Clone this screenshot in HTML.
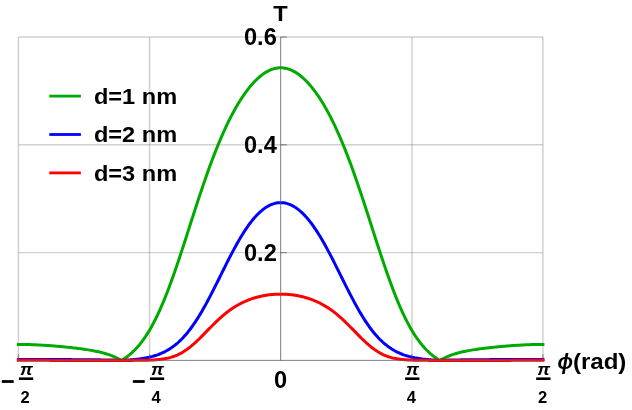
<!DOCTYPE html>
<html><head><meta charset="utf-8"><title>T vs phi</title>
<style>html,body{margin:0;padding:0;background:#fff;}body{width:632px;height:410px;overflow:hidden;font-family:"Liberation Sans",sans-serif;}</style>
</head><body>
<svg width="632" height="410" viewBox="0 0 632 410" style="display:block;will-change:transform">
<rect width="632" height="410" fill="#fff"/>
<g stroke="#666" stroke-opacity="0.31" stroke-width="1.45" fill="none">
<path d="M18.40,37.00 V360.40"/>
<path d="M149.55,37.00 V360.40"/>
<path d="M412.00,37.00 V360.40"/>
<path d="M542.90,37.00 V360.40"/>
<path d="M18.40,252.60 H542.90"/>
<path d="M18.40,144.80 H542.90"/>
<path d="M18.40,37.00 H542.90"/>
</g>
<g stroke="#666" stroke-opacity="0.50" stroke-width="1" fill="none">
<path d="M18.40,360.40 H542.90"/>
<path d="M280.65,37.00 V360.40"/>
<path d="M280.65,252.60 h6"/>
<path d="M280.65,144.80 h6"/>
<path d="M280.65,37.00 h6"/>
<path d="M18.40,360.40 v-6"/>
<path d="M149.55,360.40 v-6"/>
<path d="M412.00,360.40 v-6"/>
<path d="M542.90,360.40 v-6"/>
</g>
<g fill="none" stroke-width="3.00" stroke-linecap="square" stroke-linejoin="round">
<path stroke="#00aa00" d="M18.40,344.43 L19.86,344.43 L21.31,344.44 L22.77,344.45 L24.23,344.47 L25.68,344.50 L27.14,344.53 L28.60,344.57 L30.06,344.61 L31.51,344.66 L32.97,344.71 L34.43,344.77 L35.88,344.83 L37.34,344.90 L38.80,344.97 L40.25,345.05 L41.71,345.13 L43.17,345.22 L44.62,345.31 L46.08,345.41 L47.54,345.50 L49.00,345.61 L50.45,345.72 L51.91,345.83 L53.37,345.94 L54.82,346.06 L56.28,346.18 L57.74,346.31 L59.19,346.43 L60.65,346.57 L62.11,346.70 L63.57,346.84 L65.02,346.98 L66.48,347.13 L67.94,347.27 L69.39,347.43 L70.85,347.58 L72.31,347.74 L73.76,347.91 L75.22,348.08 L76.68,348.25 L78.13,348.43 L79.59,348.62 L81.05,348.81 L82.51,349.01 L83.96,349.21 L85.42,349.42 L86.88,349.64 L88.33,349.87 L89.79,350.11 L91.25,350.37 L92.70,350.63 L94.16,350.90 L95.62,351.19 L97.07,351.50 L98.53,351.82 L99.99,352.16 L101.45,352.52 L102.90,352.90 L104.36,353.30 L105.82,353.73 L107.27,354.18 L108.73,354.66 L110.19,355.17 L111.64,355.71 L113.10,356.29 L114.56,356.91 L116.02,357.56 L117.47,358.26 L118.93,359.01 L120.39,359.80 L121.44,360.40 L121.84,360.16 L123.30,359.26 L124.76,358.31 L126.21,357.30 L127.67,356.22 L129.13,355.08 L130.58,353.86 L132.04,352.57 L133.50,351.21 L134.96,349.76 L136.41,348.23 L137.87,346.62 L139.33,344.91 L140.78,343.11 L142.24,341.22 L143.70,339.22 L145.15,337.13 L146.61,334.93 L148.07,332.63 L149.53,330.22 L150.98,327.70 L152.44,325.07 L153.90,322.33 L155.35,319.48 L156.81,316.52 L158.27,313.45 L159.72,310.27 L161.18,306.98 L162.64,303.58 L164.09,300.08 L165.55,296.48 L167.01,292.78 L168.47,288.99 L169.92,285.10 L171.38,281.13 L172.84,277.08 L174.29,272.95 L175.75,268.75 L177.21,264.49 L178.66,260.17 L180.12,255.80 L181.58,251.38 L183.03,246.93 L184.49,242.44 L185.95,237.93 L187.41,233.41 L188.86,228.87 L190.32,224.33 L191.78,219.79 L193.23,215.27 L194.69,210.76 L196.15,206.27 L197.60,201.81 L199.06,197.39 L200.52,193.01 L201.97,188.67 L203.43,184.39 L204.89,180.15 L206.35,175.98 L207.80,171.87 L209.26,167.83 L210.72,163.85 L212.17,159.95 L213.63,156.12 L215.09,152.36 L216.54,148.68 L218.00,145.09 L219.46,141.57 L220.92,138.13 L222.37,134.78 L223.83,131.51 L225.29,128.32 L226.74,125.21 L228.20,122.19 L229.66,119.24 L231.11,116.39 L232.57,113.61 L234.03,110.92 L235.48,108.31 L236.94,105.78 L238.40,103.33 L239.86,100.96 L241.31,98.67 L242.77,96.47 L244.23,94.34 L245.68,92.30 L247.14,90.33 L248.60,88.44 L250.05,86.64 L251.51,84.91 L252.97,83.27 L254.42,81.71 L255.88,80.22 L257.34,78.82 L258.80,77.50 L260.25,76.26 L261.71,75.11 L263.17,74.04 L264.62,73.05 L266.08,72.14 L267.54,71.32 L268.99,70.59 L270.45,69.94 L271.91,69.38 L273.37,68.90 L274.82,68.51 L276.28,68.20 L277.74,67.98 L279.19,67.85 L280.65,67.81 L282.11,67.85 L283.56,67.98 L285.02,68.20 L286.48,68.51 L287.93,68.90 L289.39,69.38 L290.85,69.94 L292.31,70.59 L293.76,71.32 L295.22,72.14 L296.68,73.05 L298.13,74.04 L299.59,75.11 L301.05,76.26 L302.50,77.50 L303.96,78.82 L305.42,80.22 L306.87,81.71 L308.33,83.27 L309.79,84.91 L311.25,86.64 L312.70,88.44 L314.16,90.33 L315.62,92.30 L317.07,94.34 L318.53,96.47 L319.99,98.67 L321.44,100.96 L322.90,103.33 L324.36,105.78 L325.82,108.31 L327.27,110.92 L328.73,113.61 L330.19,116.39 L331.64,119.24 L333.10,122.19 L334.56,125.21 L336.01,128.32 L337.47,131.51 L338.93,134.78 L340.38,138.13 L341.84,141.57 L343.30,145.09 L344.76,148.68 L346.21,152.36 L347.67,156.12 L349.13,159.95 L350.58,163.85 L352.04,167.83 L353.50,171.87 L354.95,175.98 L356.41,180.15 L357.87,184.39 L359.32,188.67 L360.78,193.01 L362.24,197.39 L363.70,201.81 L365.15,206.27 L366.61,210.76 L368.07,215.27 L369.52,219.79 L370.98,224.33 L372.44,228.87 L373.89,233.41 L375.35,237.93 L376.81,242.44 L378.27,246.93 L379.72,251.38 L381.18,255.80 L382.64,260.17 L384.09,264.49 L385.55,268.75 L387.01,272.95 L388.46,277.08 L389.92,281.13 L391.38,285.10 L392.83,288.99 L394.29,292.78 L395.75,296.48 L397.21,300.08 L398.66,303.58 L400.12,306.98 L401.58,310.27 L403.03,313.45 L404.49,316.52 L405.95,319.48 L407.40,322.33 L408.86,325.07 L410.32,327.70 L411.77,330.22 L413.23,332.63 L414.69,334.93 L416.15,337.13 L417.60,339.22 L419.06,341.22 L420.52,343.11 L421.97,344.91 L423.43,346.62 L424.89,348.23 L426.34,349.76 L427.80,351.21 L429.26,352.57 L430.72,353.86 L432.17,355.08 L433.63,356.22 L435.09,357.30 L436.54,358.31 L438.00,359.26 L439.46,360.16 L439.86,360.40 L440.91,359.80 L442.37,359.01 L443.83,358.26 L445.28,357.56 L446.74,356.91 L448.20,356.29 L449.66,355.71 L451.11,355.17 L452.57,354.66 L454.03,354.18 L455.48,353.73 L456.94,353.30 L458.40,352.90 L459.85,352.52 L461.31,352.16 L462.77,351.82 L464.22,351.50 L465.68,351.19 L467.14,350.90 L468.60,350.63 L470.05,350.37 L471.51,350.11 L472.97,349.87 L474.42,349.64 L475.88,349.42 L477.34,349.21 L478.79,349.01 L480.25,348.81 L481.71,348.62 L483.17,348.43 L484.62,348.25 L486.08,348.08 L487.54,347.91 L488.99,347.74 L490.45,347.58 L491.91,347.43 L493.36,347.27 L494.82,347.13 L496.28,346.98 L497.73,346.84 L499.19,346.70 L500.65,346.57 L502.11,346.43 L503.56,346.31 L505.02,346.18 L506.48,346.06 L507.93,345.94 L509.39,345.83 L510.85,345.72 L512.30,345.61 L513.76,345.50 L515.22,345.41 L516.67,345.31 L518.13,345.22 L519.59,345.13 L521.05,345.05 L522.50,344.97 L523.96,344.90 L525.42,344.83 L526.87,344.77 L528.33,344.71 L529.79,344.66 L531.24,344.61 L532.70,344.57 L534.16,344.53 L535.62,344.50 L537.07,344.47 L538.53,344.45 L539.99,344.44 L541.44,344.43 L542.90,344.43"/>
<path stroke="#0000ff" d="M18.40,359.41 L19.86,359.41 L21.31,359.41 L22.77,359.41 L24.23,359.41 L25.68,359.41 L27.14,359.42 L28.60,359.42 L30.06,359.42 L31.51,359.43 L32.97,359.43 L34.43,359.43 L35.88,359.44 L37.34,359.44 L38.80,359.45 L40.25,359.45 L41.71,359.46 L43.17,359.47 L44.62,359.47 L46.08,359.48 L47.54,359.49 L49.00,359.50 L50.45,359.50 L51.91,359.51 L53.37,359.52 L54.82,359.53 L56.28,359.53 L57.74,359.54 L59.19,359.55 L60.65,359.56 L62.11,359.57 L63.57,359.58 L65.02,359.59 L66.48,359.59 L67.94,359.60 L69.39,359.61 L70.85,359.62 L72.31,359.63 L73.76,359.64 L75.22,359.65 L76.68,359.66 L78.13,359.67 L79.59,359.68 L81.05,359.69 L82.51,359.70 L83.96,359.71 L85.42,359.72 L86.88,359.73 L88.33,359.74 L89.79,359.76 L91.25,359.77 L92.70,359.78 L94.16,359.80 L95.62,359.81 L97.07,359.83 L98.53,359.85 L99.99,359.87 L101.45,359.89 L102.90,359.91 L104.36,359.93 L105.82,359.95 L107.27,359.98 L108.73,360.01 L110.19,360.04 L111.64,360.07 L113.10,360.11 L114.56,360.15 L116.02,360.20 L117.47,360.24 L118.93,360.30 L120.39,360.36 L121.44,360.40 L121.84,360.38 L123.30,360.31 L124.76,360.24 L126.21,360.16 L127.67,360.07 L129.13,359.97 L130.58,359.86 L132.04,359.74 L133.50,359.61 L134.96,359.47 L136.41,359.32 L137.87,359.15 L139.33,358.97 L140.78,358.77 L142.24,358.55 L143.70,358.32 L145.15,358.06 L146.61,357.79 L148.07,357.48 L149.53,357.16 L150.98,356.80 L152.44,356.42 L153.90,356.00 L155.35,355.55 L156.81,355.07 L158.27,354.55 L159.72,353.99 L161.18,353.39 L162.64,352.74 L164.09,352.04 L165.55,351.30 L167.01,350.51 L168.47,349.66 L169.92,348.75 L171.38,347.78 L172.84,346.76 L174.29,345.67 L175.75,344.51 L177.21,343.29 L178.66,342.00 L180.12,340.63 L181.58,339.20 L183.03,337.69 L184.49,336.10 L185.95,334.44 L187.41,332.70 L188.86,330.88 L190.32,328.99 L191.78,327.01 L193.23,324.97 L194.69,322.84 L196.15,320.65 L197.60,318.38 L199.06,316.04 L200.52,313.63 L201.97,311.15 L203.43,308.62 L204.89,306.02 L206.35,303.37 L207.80,300.67 L209.26,297.92 L210.72,295.13 L212.17,292.30 L213.63,289.44 L215.09,286.55 L216.54,283.64 L218.00,280.72 L219.46,277.78 L220.92,274.84 L222.37,271.90 L223.83,268.97 L225.29,266.05 L226.74,263.15 L228.20,260.28 L229.66,257.43 L231.11,254.62 L232.57,251.84 L234.03,249.12 L235.48,246.44 L236.94,243.81 L238.40,241.25 L239.86,238.74 L241.31,236.31 L242.77,233.94 L244.23,231.64 L245.68,229.42 L247.14,227.28 L248.60,225.22 L250.05,223.24 L251.51,221.35 L252.97,219.54 L254.42,217.82 L255.88,216.19 L257.34,214.65 L258.80,213.20 L260.25,211.84 L261.71,210.58 L263.17,209.41 L264.62,208.33 L266.08,207.34 L267.54,206.45 L268.99,205.65 L270.45,204.95 L271.91,204.34 L273.37,203.83 L274.82,203.40 L276.28,203.08 L277.74,202.84 L279.19,202.70 L280.65,202.65 L282.11,202.70 L283.56,202.84 L285.02,203.08 L286.48,203.40 L287.93,203.83 L289.39,204.34 L290.85,204.95 L292.31,205.65 L293.76,206.45 L295.22,207.34 L296.68,208.33 L298.13,209.41 L299.59,210.58 L301.05,211.84 L302.50,213.20 L303.96,214.65 L305.42,216.19 L306.87,217.82 L308.33,219.54 L309.79,221.35 L311.25,223.24 L312.70,225.22 L314.16,227.28 L315.62,229.42 L317.07,231.64 L318.53,233.94 L319.99,236.31 L321.44,238.74 L322.90,241.25 L324.36,243.81 L325.82,246.44 L327.27,249.12 L328.73,251.84 L330.19,254.62 L331.64,257.43 L333.10,260.28 L334.56,263.15 L336.01,266.05 L337.47,268.97 L338.93,271.90 L340.38,274.84 L341.84,277.78 L343.30,280.72 L344.76,283.64 L346.21,286.55 L347.67,289.44 L349.13,292.30 L350.58,295.13 L352.04,297.92 L353.50,300.67 L354.95,303.37 L356.41,306.02 L357.87,308.62 L359.32,311.15 L360.78,313.63 L362.24,316.04 L363.70,318.38 L365.15,320.65 L366.61,322.84 L368.07,324.97 L369.52,327.01 L370.98,328.99 L372.44,330.88 L373.89,332.70 L375.35,334.44 L376.81,336.10 L378.27,337.69 L379.72,339.20 L381.18,340.63 L382.64,342.00 L384.09,343.29 L385.55,344.51 L387.01,345.67 L388.46,346.76 L389.92,347.78 L391.38,348.75 L392.83,349.66 L394.29,350.51 L395.75,351.30 L397.21,352.04 L398.66,352.74 L400.12,353.39 L401.58,353.99 L403.03,354.55 L404.49,355.07 L405.95,355.55 L407.40,356.00 L408.86,356.42 L410.32,356.80 L411.77,357.16 L413.23,357.48 L414.69,357.79 L416.15,358.06 L417.60,358.32 L419.06,358.55 L420.52,358.77 L421.97,358.97 L423.43,359.15 L424.89,359.32 L426.34,359.47 L427.80,359.61 L429.26,359.74 L430.72,359.86 L432.17,359.97 L433.63,360.07 L435.09,360.16 L436.54,360.24 L438.00,360.31 L439.46,360.38 L439.86,360.40 L440.91,360.36 L442.37,360.30 L443.83,360.24 L445.28,360.20 L446.74,360.15 L448.20,360.11 L449.66,360.07 L451.11,360.04 L452.57,360.01 L454.03,359.98 L455.48,359.95 L456.94,359.93 L458.40,359.91 L459.85,359.89 L461.31,359.87 L462.77,359.85 L464.22,359.83 L465.68,359.81 L467.14,359.80 L468.60,359.78 L470.05,359.77 L471.51,359.76 L472.97,359.74 L474.42,359.73 L475.88,359.72 L477.34,359.71 L478.79,359.70 L480.25,359.69 L481.71,359.68 L483.17,359.67 L484.62,359.66 L486.08,359.65 L487.54,359.64 L488.99,359.63 L490.45,359.62 L491.91,359.61 L493.36,359.60 L494.82,359.59 L496.28,359.59 L497.73,359.58 L499.19,359.57 L500.65,359.56 L502.11,359.55 L503.56,359.54 L505.02,359.53 L506.48,359.53 L507.93,359.52 L509.39,359.51 L510.85,359.50 L512.30,359.50 L513.76,359.49 L515.22,359.48 L516.67,359.47 L518.13,359.47 L519.59,359.46 L521.05,359.45 L522.50,359.45 L523.96,359.44 L525.42,359.44 L526.87,359.43 L528.33,359.43 L529.79,359.43 L531.24,359.42 L532.70,359.42 L534.16,359.42 L535.62,359.41 L537.07,359.41 L538.53,359.41 L539.99,359.41 L541.44,359.41 L542.90,359.41"/>
<path stroke="#ff0000" d="M18.40,360.34 L19.86,360.34 L21.31,360.34 L22.77,360.34 L24.23,360.34 L25.68,360.34 L27.14,360.34 L28.60,360.35 L30.06,360.35 L31.51,360.35 L32.97,360.35 L34.43,360.35 L35.88,360.36 L37.34,360.36 L38.80,360.36 L40.25,360.36 L41.71,360.36 L43.17,360.37 L44.62,360.37 L46.08,360.37 L47.54,360.37 L49.00,360.37 L50.45,360.38 L51.91,360.38 L53.37,360.38 L54.82,360.38 L56.28,360.38 L57.74,360.38 L59.19,360.38 L60.65,360.39 L62.11,360.39 L63.57,360.39 L65.02,360.39 L66.48,360.39 L67.94,360.39 L69.39,360.39 L70.85,360.39 L72.31,360.39 L73.76,360.39 L75.22,360.39 L76.68,360.39 L78.13,360.39 L79.59,360.39 L81.05,360.39 L82.51,360.39 L83.96,360.39 L85.42,360.39 L86.88,360.39 L88.33,360.39 L89.79,360.40 L91.25,360.40 L92.70,360.40 L94.16,360.40 L95.62,360.40 L97.07,360.40 L98.53,360.40 L99.99,360.40 L101.45,360.40 L102.90,360.40 L104.36,360.40 L105.82,360.40 L107.27,360.40 L108.73,360.40 L110.19,360.40 L111.64,360.40 L113.10,360.40 L114.56,360.40 L116.02,360.40 L117.47,360.40 L118.93,360.40 L120.39,360.40 L121.44,360.40 L121.84,360.40 L123.30,360.40 L124.76,360.40 L126.21,360.39 L127.67,360.39 L129.13,360.39 L130.58,360.39 L132.04,360.38 L133.50,360.37 L134.96,360.37 L136.41,360.36 L137.87,360.35 L139.33,360.33 L140.78,360.32 L142.24,360.30 L143.70,360.27 L145.15,360.24 L146.61,360.21 L148.07,360.17 L149.53,360.12 L150.98,360.06 L152.44,359.99 L153.90,359.91 L155.35,359.82 L156.81,359.71 L158.27,359.58 L159.72,359.43 L161.18,359.26 L162.64,359.06 L164.09,358.84 L165.55,358.58 L167.01,358.29 L168.47,357.96 L169.92,357.59 L171.38,357.18 L172.84,356.72 L174.29,356.21 L175.75,355.65 L177.21,355.03 L178.66,354.36 L180.12,353.63 L181.58,352.84 L183.03,351.99 L184.49,351.08 L185.95,350.11 L187.41,349.08 L188.86,347.99 L190.32,346.85 L191.78,345.65 L193.23,344.41 L194.69,343.12 L196.15,341.78 L197.60,340.41 L199.06,339.00 L200.52,337.57 L201.97,336.11 L203.43,334.64 L204.89,333.15 L206.35,331.66 L207.80,330.16 L209.26,328.67 L210.72,327.19 L212.17,325.72 L213.63,324.26 L215.09,322.83 L216.54,321.43 L218.00,320.05 L219.46,318.71 L220.92,317.39 L222.37,316.12 L223.83,314.88 L225.29,313.68 L226.74,312.53 L228.20,311.41 L229.66,310.33 L231.11,309.30 L232.57,308.31 L234.03,307.36 L235.48,306.45 L236.94,305.58 L238.40,304.75 L239.86,303.96 L241.31,303.20 L242.77,302.49 L244.23,301.81 L245.68,301.16 L247.14,300.55 L248.60,299.97 L250.05,299.42 L251.51,298.91 L252.97,298.42 L254.42,297.96 L255.88,297.54 L257.34,297.14 L258.80,296.76 L260.25,296.42 L261.71,296.09 L263.17,295.80 L264.62,295.53 L266.08,295.28 L267.54,295.06 L268.99,294.86 L270.45,294.69 L271.91,294.54 L273.37,294.41 L274.82,294.31 L276.28,294.23 L277.74,294.17 L279.19,294.14 L280.65,294.13 L282.11,294.14 L283.56,294.17 L285.02,294.23 L286.48,294.31 L287.93,294.41 L289.39,294.54 L290.85,294.69 L292.31,294.86 L293.76,295.06 L295.22,295.28 L296.68,295.53 L298.13,295.80 L299.59,296.09 L301.05,296.42 L302.50,296.76 L303.96,297.14 L305.42,297.54 L306.87,297.96 L308.33,298.42 L309.79,298.91 L311.25,299.42 L312.70,299.97 L314.16,300.55 L315.62,301.16 L317.07,301.81 L318.53,302.49 L319.99,303.20 L321.44,303.96 L322.90,304.75 L324.36,305.58 L325.82,306.45 L327.27,307.36 L328.73,308.31 L330.19,309.30 L331.64,310.33 L333.10,311.41 L334.56,312.53 L336.01,313.68 L337.47,314.88 L338.93,316.12 L340.38,317.39 L341.84,318.71 L343.30,320.05 L344.76,321.43 L346.21,322.83 L347.67,324.26 L349.13,325.72 L350.58,327.19 L352.04,328.67 L353.50,330.16 L354.95,331.66 L356.41,333.15 L357.87,334.64 L359.32,336.11 L360.78,337.57 L362.24,339.00 L363.70,340.41 L365.15,341.78 L366.61,343.12 L368.07,344.41 L369.52,345.65 L370.98,346.85 L372.44,347.99 L373.89,349.08 L375.35,350.11 L376.81,351.08 L378.27,351.99 L379.72,352.84 L381.18,353.63 L382.64,354.36 L384.09,355.03 L385.55,355.65 L387.01,356.21 L388.46,356.72 L389.92,357.18 L391.38,357.59 L392.83,357.96 L394.29,358.29 L395.75,358.58 L397.21,358.84 L398.66,359.06 L400.12,359.26 L401.58,359.43 L403.03,359.58 L404.49,359.71 L405.95,359.82 L407.40,359.91 L408.86,359.99 L410.32,360.06 L411.77,360.12 L413.23,360.17 L414.69,360.21 L416.15,360.24 L417.60,360.27 L419.06,360.30 L420.52,360.32 L421.97,360.33 L423.43,360.35 L424.89,360.36 L426.34,360.37 L427.80,360.37 L429.26,360.38 L430.72,360.39 L432.17,360.39 L433.63,360.39 L435.09,360.39 L436.54,360.40 L438.00,360.40 L439.46,360.40 L439.86,360.40 L440.91,360.40 L442.37,360.40 L443.83,360.40 L445.28,360.40 L446.74,360.40 L448.20,360.40 L449.66,360.40 L451.11,360.40 L452.57,360.40 L454.03,360.40 L455.48,360.40 L456.94,360.40 L458.40,360.40 L459.85,360.40 L461.31,360.40 L462.77,360.40 L464.22,360.40 L465.68,360.40 L467.14,360.40 L468.60,360.40 L470.05,360.40 L471.51,360.40 L472.97,360.39 L474.42,360.39 L475.88,360.39 L477.34,360.39 L478.79,360.39 L480.25,360.39 L481.71,360.39 L483.17,360.39 L484.62,360.39 L486.08,360.39 L487.54,360.39 L488.99,360.39 L490.45,360.39 L491.91,360.39 L493.36,360.39 L494.82,360.39 L496.28,360.39 L497.73,360.39 L499.19,360.39 L500.65,360.39 L502.11,360.38 L503.56,360.38 L505.02,360.38 L506.48,360.38 L507.93,360.38 L509.39,360.38 L510.85,360.38 L512.30,360.37 L513.76,360.37 L515.22,360.37 L516.67,360.37 L518.13,360.37 L519.59,360.36 L521.05,360.36 L522.50,360.36 L523.96,360.36 L525.42,360.36 L526.87,360.35 L528.33,360.35 L529.79,360.35 L531.24,360.35 L532.70,360.35 L534.16,360.34 L535.62,360.34 L537.07,360.34 L538.53,360.34 L539.99,360.34 L541.44,360.34 L542.90,360.34"/>
</g>
<g stroke="#666" stroke-opacity="0.55" stroke-width="1" fill="none">
<path d="M18.40,360.40 H542.90"/>
<path d="M280.65,37.00 V360.40"/>
<path d="M280.65,252.60 h6"/>
<path d="M280.65,144.80 h6"/>
<path d="M280.65,37.00 h6"/>
<path d="M18.40,360.40 v-6"/>
<path d="M149.55,360.40 v-6"/>
<path d="M412.00,360.40 v-6"/>
<path d="M542.90,360.40 v-6"/>
</g>
<g fill="none" stroke-width="2.8">
<path stroke="#00aa00" d="M49.3,96.1 H80.9"/>
<path stroke="#0000ff" d="M49.3,134.5 H80.9"/>
<path stroke="#ff0000" d="M49.3,172.9 H80.9"/>
</g>
<g font-family="'Liberation Sans', sans-serif" font-weight="bold" fill="#000" font-size="23.6">
<text transform="translate(93.90,103.80) scale(1.000,0.940)" text-anchor="start">d=1 nm</text>
<text transform="translate(93.90,142.20) scale(1.000,0.940)" text-anchor="start">d=2 nm</text>
<text transform="translate(93.90,180.60) scale(1.000,0.940)" text-anchor="start">d=3 nm</text>
<text transform="translate(276.80,260.60) scale(1.000,0.975)" text-anchor="end">0.2</text>
<text transform="translate(276.80,152.80) scale(1.000,0.975)" text-anchor="end">0.4</text>
<text transform="translate(276.80,45.00) scale(1.000,0.975)" text-anchor="end">0.6</text>
<text transform="translate(280.40,20.80) scale(1.000,0.965)" text-anchor="middle">T</text>
<text transform="translate(280.60,387.90) scale(1.000,0.975)" text-anchor="middle">0</text>
<text transform="translate(557.60,368.80) scale(0.870,0.950)" text-anchor="start" font-style="italic">&#981;</text>
<text transform="translate(572.90,368.80) scale(1.020,0.950)" text-anchor="start">(rad)</text>
<text transform="translate(26.35,374.8) scale(1.13,1.06)" font-size="16" font-style="italic" text-anchor="middle">&#960;</text>
<rect x="18.9" y="377.4" width="14.3" height="2.6"/>
<text x="25.2" y="402.8" font-size="16.6" text-anchor="middle">2</text>
<rect x="1.8" y="380.1" width="11.9" height="2.8"/>
<text transform="translate(157.40,374.8) scale(1.13,1.06)" font-size="16" font-style="italic" text-anchor="middle">&#960;</text>
<rect x="149.9" y="377.4" width="14.3" height="2.6"/>
<text x="156.2" y="402.8" font-size="16.6" text-anchor="middle">4</text>
<rect x="132.8" y="380.1" width="11.9" height="2.8"/>
<text transform="translate(412.50,374.8) scale(1.13,1.06)" font-size="16" font-style="italic" text-anchor="middle">&#960;</text>
<rect x="405.1" y="377.4" width="14.3" height="2.6"/>
<text x="411.3" y="402.8" font-size="16.6" text-anchor="middle">4</text>
<text transform="translate(543.70,374.8) scale(1.13,1.06)" font-size="16" font-style="italic" text-anchor="middle">&#960;</text>
<rect x="536.2" y="377.4" width="14.3" height="2.6"/>
<text x="542.5" y="402.8" font-size="16.6" text-anchor="middle">2</text>
</g>
</svg>
</body></html>
